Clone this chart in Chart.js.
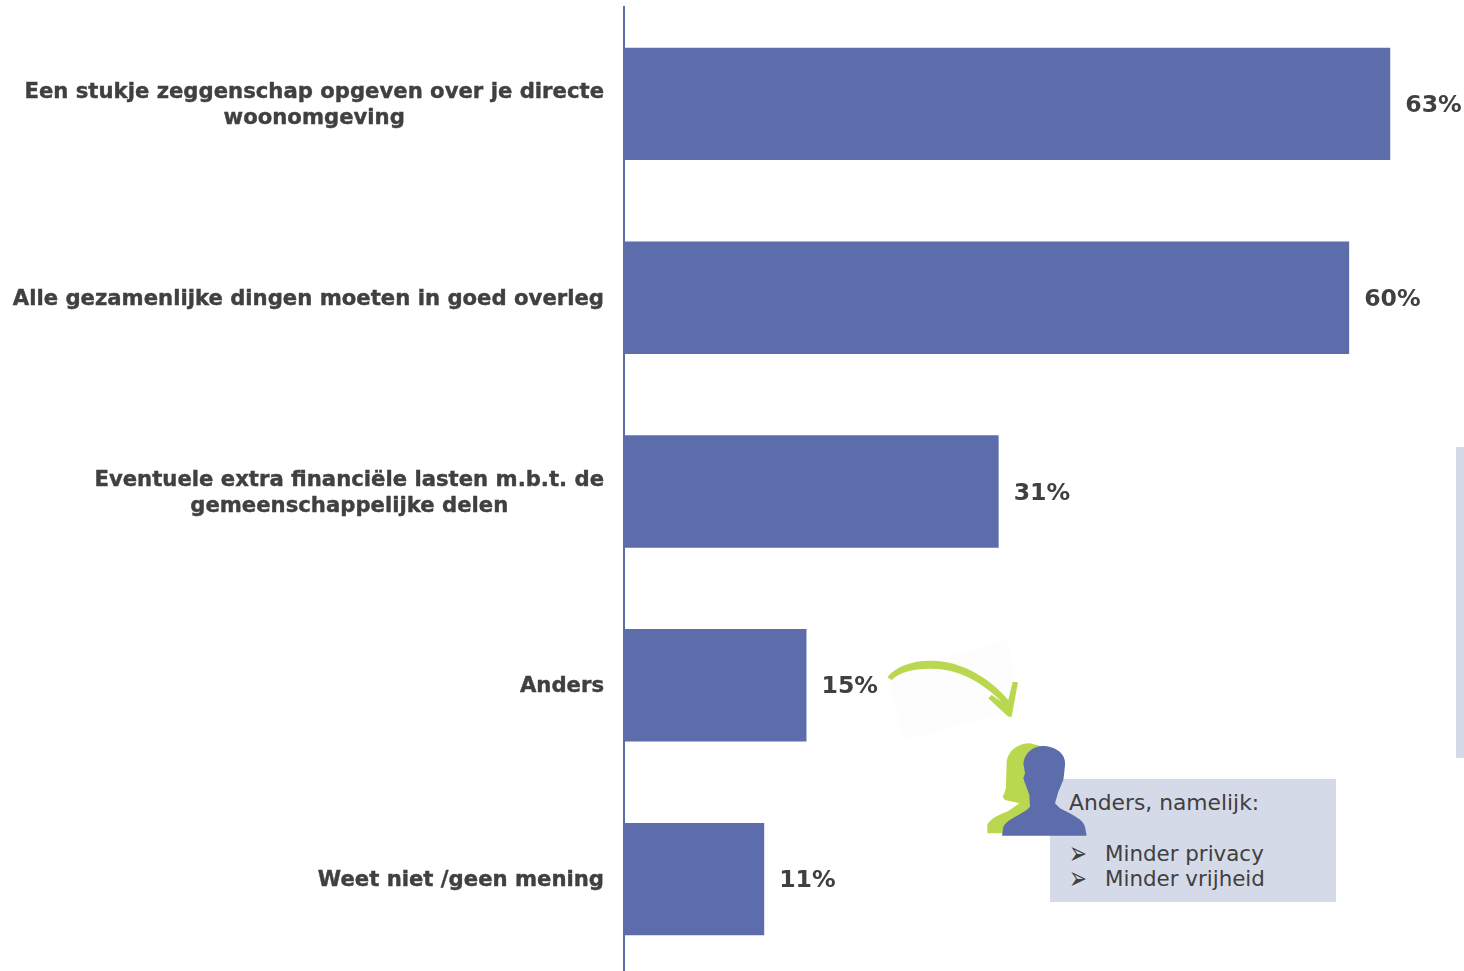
<!DOCTYPE html>
<html>
<head>
<meta charset="utf-8">
<title>Anders</title>
<script src="https://cdn.jsdelivr.net/npm/chart.js@4/dist/chart.umd.min.js"></script>
<style>
html, body { margin: 0; padding: 0; background: #fff; overflow: hidden; }
#wrap { position: relative; width: 1464px; height: 971px; overflow: hidden; }
#barChart { position: absolute; left: 0; top: 0; }
#overlay { position: absolute; left: 0; top: 0; }
.note { position: absolute; font-family: "DejaVu Sans", sans-serif; font-size: 21.4px; line-height: 25px; color: #404040; white-space: nowrap; }
.bullet { transform: scale(1, 1.5); transform-origin: 50% 60%; }
</style>
</head>
<body>
<div id="wrap">
    <canvas id="barChart" width="1470" height="976"></canvas>
    <svg id="overlay" width="1464" height="971">
        <rect x="1456" y="447" width="8" height="311" fill="#d5dae9"/>
        <rect x="1050" y="779" width="286" height="123" fill="#d5dae9"/>
        <g transform="translate(880,650) scale(0.3333)">
            <path d="M20,70 L385,-30 L415,180 L70,270 Z" fill="#fdfdfd"/>
            <path d="M22,82 C50,45 110,28 170,33 C250,38 330,85 385,150 L398,95 L414,97 L395,200 L385,200 L325,145 L335,135 L365,155 C310,100 240,60 170,57 C110,52 60,65 35,90 Z" fill="#b9d84f"/>
        </g>
        <g transform="translate(980,735) scale(0.3333)">
            <path d="M22,295 L22,270 C30,250 60,238 85,228 L118,205 L75,195 L68,185 C76,170 78,160 78,150 L80,80 C85,45 115,25 150,25 L190,35 L160,295 Z" fill="#b9d84f"/>
            <path d="M66,302 L70,275 C80,255 110,245 140,225 L150,215 L148,180 L135,145 L130,130 L135,115 L130,85 C135,45 170,30 195,33 C235,38 258,60 255,90 L252,120 L250,135 L235,170 L225,205 L240,220 C280,240 310,255 315,275 L320,302 Z" fill="#5d6dac"/>
        </g>
    </svg>
    <div class="note" style="left:1069px;top:790px;font-size:21.8px;">Anders, namelijk:</div>
    <div class="note bullet" style="left:1069px;top:841px;">&#10146;</div>
    <div class="note" style="left:1105px;top:841px;">Minder privacy</div>
    <div class="note bullet" style="left:1069px;top:866px;">&#10146;</div>
    <div class="note" style="left:1105px;top:866px;">Minder vrijheid</div>
</div>
<script>
var categories = [
    ["Een stukje zeggenschap opgeven over je directe", "woonomgeving"],
    "Alle gezamenlijke dingen moeten in goed overleg",
    ["Eventuele extra financiële lasten m.b.t. de", "gemeenschappelijke delen"],
    "Anders",
    "Weet niet /geen mening"
];
var percentages = [63.4, 60, 31, 15.1, 11.6];
var percentageLabels = ["63%", "60%", "31%", "15%", "11%"];

var barColor = '#5d6dac';
var textColor = '#404040';
var labelFont = 'bold 21.2px "DejaVu Sans"';
var valueFont = 'bold 23.6px "DejaVu Sans"';

// labels next to the axis: wrapped lines are centred on each other, the block is right aligned
var categoryLabels = {
    id: 'categoryLabels',
    afterDraw: function (chart) {
        var ctx = chart.ctx, yScale = chart.scales.y;
        ctx.save();
        ctx.font = labelFont;
        ctx.fillStyle = textColor;
        ctx.strokeStyle = textColor;
        ctx.lineWidth = 0.4;
        ctx.textAlign = 'center';
        ctx.textBaseline = 'middle';
        categories.forEach(function (label, i) {
            var lines = [].concat(label);
            var widest = Math.max.apply(null, lines.map(function (l) { return ctx.measureText(l).width; }));
            var y = yScale.getPixelForTick(i) - (lines.length - 1) * 13 + 1.5;
            lines.forEach(function (line, n) {
                ctx.fillText(line, 604 - widest / 2, y + n * 26);
                ctx.strokeText(line, 604 - widest / 2, y + n * 26);
            });
        });
        ctx.restore();
    }
};

var valueLabels = {
    id: 'valueLabels',
    afterDatasetsDraw: function (chart) {
        var ctx = chart.ctx;
        ctx.save();
        ctx.font = valueFont;
        ctx.fillStyle = textColor;
        ctx.textAlign = 'left';
        ctx.textBaseline = 'middle';
        chart.getDatasetMeta(0).data.forEach(function (bar, i) {
            ctx.fillText(percentageLabels[i], bar.x + 15, bar.y + 2);
        });
        ctx.restore();
    }
};

var barChart = new Chart(document.getElementById('barChart'), {
    type: 'bar',
    data: {
        labels: categories,
        datasets: [{
            data: percentages,
            backgroundColor: barColor,
            borderWidth: 0,
            categoryPercentage: 1,
            barPercentage: 0.58
        }]
    },
    options: {
        indexAxis: 'y',
        responsive: false,
        animation: false,
        layout: { padding: { top: 7, left: 0, right: 0, bottom: 0 } },
        plugins: { legend: { display: false }, tooltip: { enabled: false } },
        scales: {
            x: { display: false, min: 0, max: 70 },
            y: {
                grid: { display: false, drawTicks: false },
                border: { display: true, color: barColor, width: 2 },
                ticks: { display: false },
                afterFit: function (scale) { scale.width = 624; }
            }
        }
    },
    plugins: [categoryLabels, valueLabels]
});
</script>
</body>
</html>
